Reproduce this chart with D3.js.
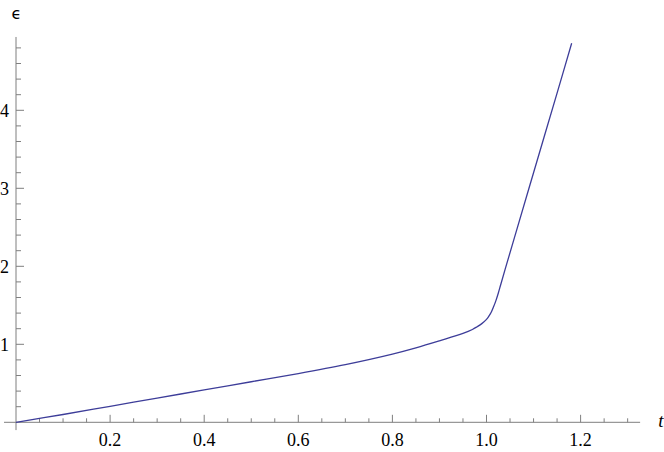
<!DOCTYPE html>
<html><head><meta charset="utf-8">
<script src="https://cdn.jsdelivr.net/npm/d3@7"></script>
<style>body{margin:0;background:#fff}svg{display:block}</style>
</head><body>
<script>
const tValues = [0, 0.1, 0.2, 0.3, 0.4, 0.5, 0.6, 0.7, 0.8, 0.85, 0.9, 0.95, 0.97, 0.98, 0.99, 1.0, 1.005, 1.01, 1.015, 1.02, 1.025, 1.03, 1.04, 1.06, 1.1, 1.15, 1.181];
const epsValues = [0, 0.1, 0.205, 0.31, 0.415, 0.52, 0.625, 0.74, 0.875, 0.955, 1.045, 1.14, 1.19, 1.225, 1.265, 1.32, 1.36, 1.41, 1.48, 1.56, 1.655, 1.76, 1.97, 2.38, 3.2, 4.22, 4.86];
const xMajorTicks = [0.2, 0.4, 0.6, 0.8, 1.0, 1.2];
const yMajorTicks = [1, 2, 3, 4];
const xLabel = "t";
const yLabel = "ϵ";

const W = 664, H = 452;
const svg = d3.select("body").append("svg").attr("width", W).attr("height", H);
const serif = "'Liberation Serif', 'Times New Roman', serif";

const x = d3.scaleLinear().domain([0, 1]).range([16, 486.5]);
const y = d3.scaleLinear().domain([0, 1]).range([422.3, 344.3]);
const xMin = -0.0255, xMax = 1.3265, yMin = -0.1, yMax = 4.94;
const axisColor = "#7f7f7f";

svg.append("line").attr("x1", x(xMin)).attr("x2", x(xMax)).attr("y1", y(0)).attr("y2", y(0))
  .attr("stroke", axisColor).attr("stroke-width", 1);
svg.append("line").attr("x1", x(0)).attr("x2", x(0)).attr("y1", y(yMin)).attr("y2", y(yMax))
  .attr("stroke", axisColor).attr("stroke-width", 1);

const xMinor = d3.range(1, 27).map(i => +(i * 0.05).toFixed(2)).filter(v => !xMajorTicks.some(m => Math.abs(m - v) < 1e-6));
svg.selectAll(".xminor").data(xMinor).join("line")
  .attr("x1", d => x(d)).attr("x2", d => x(d)).attr("y1", y(0)).attr("y2", y(0) - 4)
  .attr("stroke", axisColor);
svg.selectAll(".xmajor").data(xMajorTicks).join("line")
  .attr("x1", d => x(d)).attr("x2", d => x(d)).attr("y1", y(0)).attr("y2", y(0) - 7.5)
  .attr("stroke", axisColor);
svg.selectAll(".xlab").data(xMajorTicks).join("text")
  .attr("x", d => x(d)).attr("y", 446)
  .attr("text-anchor", "middle")
  .style("font-family", serif).style("font-size", "18px")
  .attr("fill", "#000").text(d => d.toFixed(1));

const yMinor = d3.range(1, 25).map(i => +(i * 0.2).toFixed(1)).filter(v => !yMajorTicks.some(m => Math.abs(m - v) < 1e-6));
svg.selectAll(".yminor").data(yMinor).join("line")
  .attr("x1", x(0)).attr("x2", x(0) + 5).attr("y1", d => y(d)).attr("y2", d => y(d))
  .attr("stroke", axisColor);
svg.selectAll(".ymajor").data(yMajorTicks).join("line")
  .attr("x1", x(0)).attr("x2", x(0) + 8).attr("y1", d => y(d)).attr("y2", d => y(d))
  .attr("stroke", axisColor);
svg.selectAll(".ylab").data(yMajorTicks).join("text")
  .attr("x", 9).attr("y", d => y(d) + 6.5)
  .attr("text-anchor", "end")
  .style("font-family", serif).style("font-size", "18px")
  .attr("fill", "#000").text(d => d);

svg.append("text").attr("x", 661).attr("y", 427).attr("text-anchor", "middle")
  .style("font-family", serif).style("font-style", "italic")
  .style("font-size", "19px").text(xLabel);
svg.append("text").attr("x", 16.5).attr("y", 19).attr("text-anchor", "middle")
  .style("font-family", "'DejaVu Sans', sans-serif")
  .style("font-size", "16px").text(yLabel);

const data = tValues.map((t, i) => [t, epsValues[i]]);
const line = d3.line().x(d => x(d[0])).y(d => y(d[1])).curve(d3.curveCatmullRom.alpha(0.5));
svg.append("path").datum(data).attr("d", line)
  .attr("fill", "none").attr("stroke", "#3d3d99").attr("stroke-width", 1.3);
</script>
</body></html>
